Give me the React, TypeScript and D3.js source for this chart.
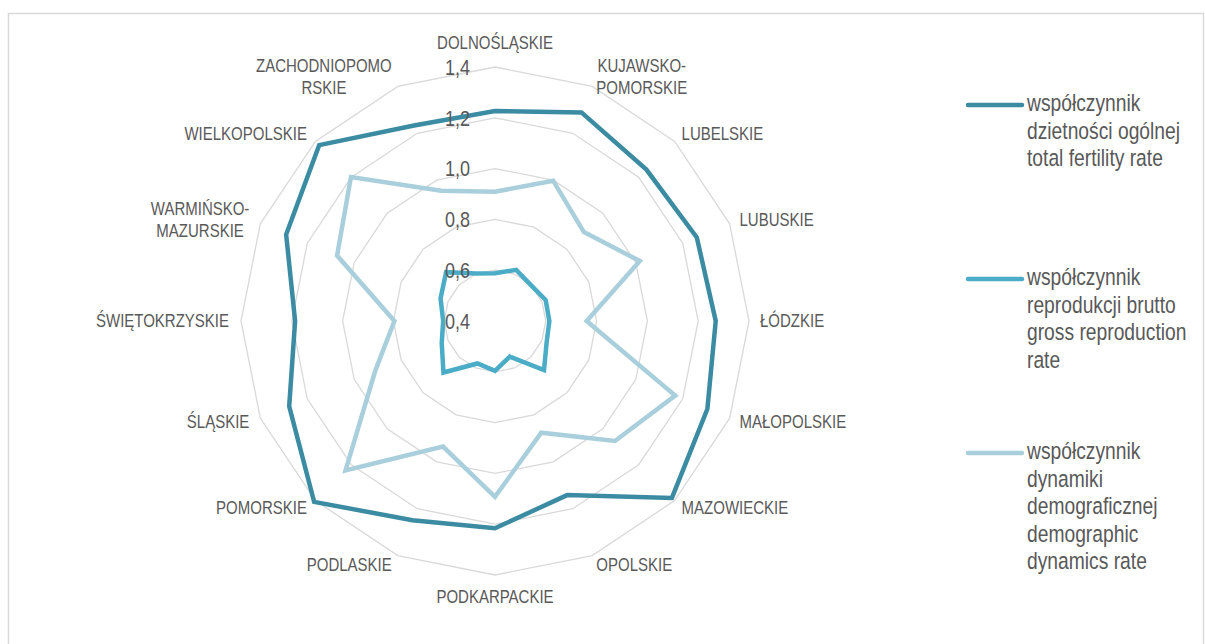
import React from "react";
import * as d3 from "d3";

const categories: string[] = [
  "DOLNOŚLĄSKIE",
  "KUJAWSKO-\nPOMORSKIE",
  "LUBELSKIE",
  "LUBUSKIE",
  "ŁÓDZKIE",
  "MAŁOPOLSKIE",
  "MAZOWIECKIE",
  "OPOLSKIE",
  "PODKARPACKIE",
  "PODLASKIE",
  "POMORSKIE",
  "ŚLĄSKIE",
  "ŚWIĘTOKRZYSKIE",
  "WARMIŃSKO-\nMAZURSKIE",
  "WIELKOPOLSKIE",
  "ZACHODNIOPOMO\nRSKIE",
];

const totalFertility: number[] = [1.227, 1.289, 1.243, 1.26, 1.269, 1.305, 1.385, 1.142, 1.216, 1.249, 1.407, 1.277, 1.187, 1.29, 1.379, 1.233];
const grossReproduction: number[] = [0.588, 0.618, 0.6, 0.616, 0.614, 0.62, 0.673, 0.552, 0.596, 0.581, 0.687, 0.627, 0.604, 0.632, 0.672, 0.602];
const demographicDynamics: number[] = [0.909, 0.998, 0.895, 1.017, 0.761, 1.168, 1.068, 0.876, 1.092, 0.935, 1.232, 0.91, 0.796, 1.073, 1.202, 0.955];

const tickValues: number[] = [0.4, 0.6, 0.8, 1.0, 1.2, 1.4];
const tickLabels: string[] = ["0,4", "0,6", "0,8", "1,0", "1,2", "1,4"];

const seriesNames: string[][] = [
  ["współczynnik", "dzietności ogólnej", "total fertility rate"],
  ["współczynnik", "reprodukcji brutto", "gross reproduction", "rate"],
  ["współczynnik", "dynamiki", "demograficznej", "demographic", "dynamics rate"],
];
const seriesColors: string[] = ["#3b8ba3", "#4aacc6", "#a8cfdb"];

const W = 1205;
const H = 644;
const cx = 495;
const cy = 321;
const R = 254;
const FONT = "'Liberation Sans', Arial, sans-serif";
const SX = 0.82;
const TXT = "#595959";

export default function App() {
  const r = d3.scaleLinear().domain([0.4, 1.4]).range([0, R]);
  const angle = d3
    .scaleLinear()
    .domain([0, categories.length])
    .range([0, 2 * Math.PI]);

  const radial = (vals: number[]) =>
    d3
      .lineRadial<number>()
      .angle((_, i) => angle(i))
      .radius((v) => r(v))
      .curve(d3.curveLinearClosed)(vals) as string;

  const series = [totalFertility, grossReproduction, demographicDynamics];

  const legendTop = [105, 279, 453];
  const legendLH = 27.5;

  return (
    <svg
      width={W}
      height={H}
      style={{ position: "absolute", left: 0, top: 0, background: "#fff" }}
    >
      <rect x={8.5} y={13.5} width={1195} height={660} fill="#fff" stroke="#d9d9d9" strokeWidth={1.5} />
      <g transform={`translate(${cx},${cy})`}>
        {tickValues.slice(1).map((t) => (
          <path
            key={t}
            d={radial(categories.map(() => t))}
            fill="none"
            stroke="#d9d9d9"
            strokeWidth={1.3}
          />
        ))}
        {series.map((s, k) => (
          <path
            key={k}
            d={radial(s)}
            fill="none"
            stroke={seriesColors[k]}
            strokeWidth={4.5}
            strokeLinejoin="miter"
          />
        ))}
        {tickValues.map((t, i) => (
          <text
            key={t}
            transform={`translate(${-25},${-r(t) + 2}) scale(${SX},1)`}
            textAnchor="end"
            dominantBaseline="middle"
            fontFamily={FONT}
            fontSize={22}
            fill={TXT}
          >
            {tickLabels[i]}
          </text>
        ))}
        {categories.map((c, i) => {
          const a = angle(i);
          const s = Math.sin(a);
          const co = Math.cos(a);
          const vx = R * s;
          const vy = -R * co;
          const lines = c.split("\n");
          let anchor = "middle";
          let x = vx;
          let y = vy;
          if (Math.abs(s) < 0.1) {
            y = vy - co * 23;
          } else {
            anchor = s > 0 ? "start" : "end";
            x = vx + (s > 0 ? 3 + 8 * s * s : -(5 + 7 * s * s));
            y = vy - co * 10 + 1;
          }
          const lh = 21.7;
          const blockW = 0;
          return (
            <g key={i} transform={`translate(${x},${y}) scale(${SX},1)`}>
              {lines.map((ln, j) => {
                // multi-line blocks are centred within the block width
                const multi = lines.length > 1;
                return (
                  <text
                    key={j}
                    x={blockW}
                    y={(j - (lines.length - 1) / 2) * lh}
                    textAnchor={multi ? "middle" : anchor}
                    dominantBaseline="middle"
                    fontFamily={FONT}
                    fontSize={18.3}
                    fill={TXT}
                    data-anchor={anchor}
                    ref={(el) => {
                      if (!el || !multi) return;
                      const g = el.parentNode as SVGGElement;
                      const texts = Array.from(g.querySelectorAll("text"));
                      const widths = texts.map((t) => (t as SVGTextElement).getComputedTextLength());
                      const mw = Math.max(...widths);
                      const off = anchor === "start" ? mw / 2 : anchor === "end" ? -mw / 2 : 0;
                      texts.forEach((t) => t.setAttribute("x", String(off)));
                    }}
                  >
                    {ln}
                  </text>
                );
              })}
            </g>
          );
        })}
      </g>
      {seriesNames.map((names, k) => (
        <g key={k}>
          <line
            x1={968}
            x2={1022}
            y1={legendTop[k]}
            y2={legendTop[k]}
            stroke={seriesColors[k]}
            strokeWidth={4.5}
            strokeLinecap="round"
          />
          {names.map((n, j) => (
            <text
              key={j}
              transform={`translate(1027,${legendTop[k] + j * legendLH}) scale(${SX},1)`}
              dominantBaseline="middle"
              fontFamily={FONT}
              fontSize={23.5}
              fill={TXT}
            >
              {n}
            </text>
          ))}
        </g>
      ))}
    </svg>
  );
}
